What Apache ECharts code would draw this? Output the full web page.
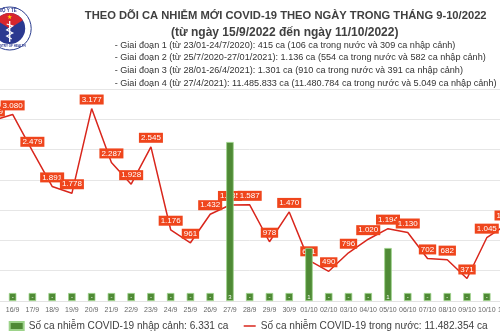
<!DOCTYPE html>
<html><head><meta charset="utf-8">
<script src="https://cdn.jsdelivr.net/npm/echarts@6/dist/echarts.min.js"></script>
<style>html,body{margin:0;padding:0;background:#fff;overflow:hidden;width:500px;height:333px}
#c{position:absolute;left:-16.7px;top:0;width:535.1px;height:333px}</style>
</head><body><div id="c"></div>
<script>
const categories = ['15/9','16/9','17/9','18/9','19/9','20/9','21/9','22/9','23/9','24/9','25/9','26/9','27/9','28/9','29/9','30/9',
  '01/10','02/10','03/10','04/10','05/10','06/10','07/10','08/10','09/10','10/10','11/10'];
const domestic = [2979,3080,2479,1891,1778,3177,2287,1928,2545,1176,961,1432,1585,1587,978,1470,
  671,490,796,1020,1194,1130,702,682,371,1045,1262];
const imported = [0,0,0,0,0,0,0,0,0,0,0,0,3,0,0,0,1,0,0,0,1,0,0,0,0,0,0];
const importedName = 'Số ca nhiễm COVID-19 nhập cảnh: 6.331 ca';
const domesticName = 'Số ca nhiễm COVID-19 trong nước: 11.482.354 ca';
const titleText = 'THEO DÕI CA NHIỄM MỚI COVID-19 THEO NGÀY TRONG THÁNG 9-10/2022';
const subtitleText = '(từ ngày 15/9/2022 đến ngày 11/10/2022)';
const phaseLines = [
  '- Giai đoạn 1 (từ 23/01-24/7/2020): 415 ca (106 ca trong nước và 309 ca nhập cảnh)',
  '- Giai đoạn 2 (từ 25/7/2020-27/01/2021): 1.136 ca (554 ca trong nước và 582 ca nhập cảnh)',
  '- Giai đoạn 3 (từ 28/01-26/4/2021): 1.301 ca (910 ca trong nước và 391 ca nhập cảnh)',
  '- Giai đoạn 4 (từ 27/4/2021): 11.485.833 ca (11.480.784 ca trong nước và 5.049 ca nhập cảnh)'
];

function fmt(v){ return String(v).replace(/\B(?=(\d{3})+(?!\d))/g, '.'); }

const OX = 16.7; // container offset so page x = chart x - OX
const chart = echarts.init(document.getElementById('c'));
const graphics = [
  {type:'circle', shape:{cx:OX+10, cy:28.5, r:21.5}, style:{fill:'#fff', stroke:'#2a3c8e', lineWidth:1}},
  {type:'circle', shape:{cx:OX+10, cy:28.5, r:15.5}, style:{fill:'#2b3990'}},
  {type:'sector', shape:{cx:OX+10, cy:28.5, r:15.5, r0:0, startAngle:Math.PI*1.18, endAngle:Math.PI*1.82}, style:{fill:'#d7262d'}},
  {type:'text', style:{x:OX+10, y:17, text:'★', fill:'#ffd600', font:'6px sans-serif', align:'center', verticalAlign:'middle'}},
  {type:'line', shape:{x1:OX+10, y1:21, x2:OX+10, y2:42}, style:{stroke:'#fff', lineWidth:1.3}},
  {type:'polyline', shape:{points:[[OX+7,24],[OX+13,26],[OX+7,30],[OX+13,33],[OX+7,36],[OX+12,39]]}, style:{stroke:'#fff', lineWidth:1.2, fill:null}},
  {type:'text', style:{x:OX+8, y:10.5, text:'BỘ Y TẾ', fill:'#2b3990', font:'bold 4.5px sans-serif', align:'center', verticalAlign:'middle'}},
  {type:'text', style:{x:OX+10, y:46.5, text:'MINISTRY OF HEALTH', fill:'#2b3990', font:'bold 3px sans-serif', align:'center', verticalAlign:'middle'}},
  {type:'text', style:{x:OX+286, y:16, text:titleText, fill:'#404040', font:'bold 11.2px "Liberation Sans"', align:'center', verticalAlign:'middle'}},
  {type:'text', style:{x:OX+285, y:33, text:subtitleText, fill:'#404040', font:'bold 12px "Liberation Sans"', align:'center', verticalAlign:'middle'}}
];
phaseLines.forEach((t,i)=>{
  graphics.push({type:'text', style:{x:OX+115, y:45 + i*12.8, text:t, fill:'#333', font:'9.1px "Liberation Sans"', align:'left', verticalAlign:'middle'}});
});

const legendText = {fontSize:10.1, color:'#404040', fontFamily:'Liberation Sans'};
chart.setOption({
  animation:false,
  backgroundColor:'#fff',
  graphic: graphics,
  grid:{left:0, right:0, top:89, bottom:32, containLabel:false},
  legend:[
    {left:OX+4, top:316, itemWidth:14, itemHeight:8, textStyle:legendText,
     data:[{name:importedName, icon:'rect'}]},
    {left:OX+239, top:316, itemWidth:12, itemHeight:1.5, textStyle:legendText,
     data:[{name:domesticName, icon:'rect'}]}
  ],
  xAxis:{
    type:'category', data:categories, boundaryGap:true,
    axisLine:{show:true, lineStyle:{color:'#e3e3e3'}}, axisTick:{show:false},
    axisLabel:{fontSize:7, color:'#666', margin:6, interval:0}
  },
  yAxis:[
    {type:'value', min:0, max:3500, interval:500, axisLabel:{show:false}, axisLine:{show:false}, axisTick:{show:false},
     splitLine:{lineStyle:{color:'#e6e6e6'}}},
    {type:'value', min:0, max:4, interval:1, axisLabel:{show:false}, axisLine:{show:false}, axisTick:{show:false},
     splitLine:{show:false}}
  ],
  series:[
    {name:domesticName, type:'line', data:domestic, yAxisIndex:0, z:2,
     symbol:'circle', symbolSize:0.1, lineStyle:{color:'#d9261c', width:1.5}, itemStyle:{color:'#d9261c'},
     label:{show:true, position:'top', distance:4, formatter:p=>fmt(p.value), color:'#fff', backgroundColor:'#ef451c',
       fontSize:8, lineHeight:8, padding:[1,2,1,2], fontFamily:'Liberation Sans'}},
    {name:importedName, type:'bar', data:imported, yAxisIndex:1, z:3, barWidth:7.5, barMinHeight:8,
     itemStyle:{color:'#4f8a35', borderColor:'#9dd38a', borderWidth:0.8},
     label:{show:true, position:'insideBottom', distance:1, formatter:p=>p.value===0?'-':String(p.value), color:'#fff', fontSize:6}}
  ]
});
</script></body></html>
